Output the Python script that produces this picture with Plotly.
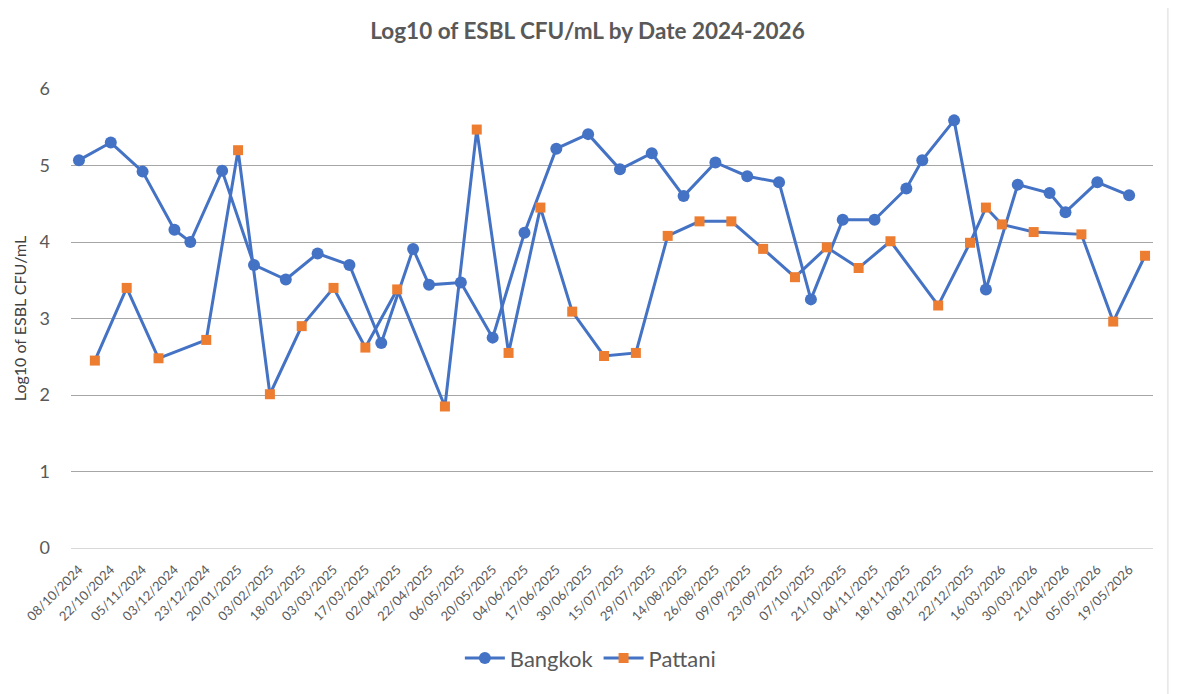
import plotly.graph_objects as go

# visible category labels (every second sampling slot is labelled)
date_labels = [
    "08/10/2024", "22/10/2024", "05/11/2024", "03/12/2024", "23/12/2024",
    "20/01/2025", "03/02/2025", "18/02/2025", "03/03/2025", "17/03/2025",
    "02/04/2025", "22/04/2025", "06/05/2025", "20/05/2025", "04/06/2025",
    "17/06/2025", "30/06/2025", "15/07/2025", "29/07/2025", "14/08/2025",
    "26/08/2025", "09/09/2025", "23/09/2025", "07/10/2025", "21/10/2025",
    "04/11/2025", "18/11/2025", "08/12/2025", "22/12/2025", "16/03/2026",
    "30/03/2026", "21/04/2026", "05/05/2026", "19/05/2026",
]
n_slots = 68

bangkok_slot = [0, 2, 4, 6, 7, 9, 11, 13, 15, 17, 19, 21, 22, 24, 26, 28, 30, 32,
                34, 36, 38, 40, 42, 44, 46, 48, 50, 52, 53, 55, 57, 59, 61, 62, 64, 66]
bangkok_log = [5.07, 5.30, 4.92, 4.16, 4.00, 4.93, 3.70, 3.51, 3.85, 3.70, 2.68, 3.91,
               3.44, 3.47, 2.75, 4.12, 5.22, 5.41, 4.95, 5.16, 4.60, 5.04, 4.86, 4.78,
               3.25, 4.29, 4.29, 4.70, 5.07, 5.59, 3.38, 4.75, 4.64, 4.39, 4.78, 4.61]

pattani_slot = [1, 3, 5, 8, 10, 12, 14, 16, 18, 20, 23, 25, 27, 29, 31, 33, 35, 37,
                39, 41, 43, 45, 47, 49, 51, 54, 56, 57, 58, 60, 63, 65, 67]
pattani_log = [2.45, 3.40, 2.48, 2.72, 5.20, 2.01, 2.90, 3.40, 2.62, 3.38, 1.85, 5.47,
               2.55, 4.45, 3.09, 2.51, 2.55, 4.08, 4.27, 4.27, 3.91, 3.54, 3.93, 3.66,
               4.01, 3.17, 3.99, 4.45, 4.23, 4.13, 4.10, 2.96, 3.82]

blue = "#4472C4"
orange = "#ED7D31"
grey_text = "#595959"
font_family = "Lato, 'Open Sans', sans-serif"

fig = go.Figure()
fig.add_trace(go.Scatter(
    x=bangkok_slot, y=bangkok_log, name="Bangkok", mode="lines+markers",
    line=dict(color=blue, width=3),
    marker=dict(symbol="circle", size=12, color=blue),
))
fig.add_trace(go.Scatter(
    x=pattani_slot, y=pattani_log, name="Pattani", mode="lines+markers",
    line=dict(color=blue, width=3),
    marker=dict(symbol="square", size=10, color=orange),
))

# the page body adds an 8px margin, so the figure is a little smaller than the window
fig.update_layout(
    width=1174,
    height=686,
    margin=dict(l=60, r=29, t=81, b=146),
    paper_bgcolor="white",
    plot_bgcolor="white",
    font=dict(family=font_family, color=grey_text),
    title=dict(
        text="<b>Log10 of ESBL CFU/mL by Date 2024-2026</b>",
        x=0.4936,
        xref="container",
        xanchor="center",
        y=0.967,
        yref="container",
        yanchor="middle",
        font=dict(size=22.5, color=grey_text),
    ),
    legend=dict(
        orientation="h",
        x=0.48,
        xanchor="center",
        y=-0.24,
        yanchor="middle",
        font=dict(size=22, color=grey_text),
        itemwidth=40,
    ),
    showlegend=True,
)

fig.update_xaxes(
    range=[-0.5, n_slots - 0.5],
    tickmode="array",
    tickvals=list(range(0, n_slots, 2)),
    ticktext=date_labels,
    tickangle=-45,
    tickfont=dict(size=13, color=grey_text),
    showgrid=False,
    showline=True,
    linecolor="#d9d9d9",
    linewidth=1,
    ticks="outside",
    ticklen=8,
    tickcolor="rgba(0,0,0,0)",
    zeroline=False,
)
fig.update_yaxes(
    range=[0, 6],
    dtick=1,
    tickfont=dict(size=18, color=grey_text),
    showgrid=True,
    gridcolor="#a6a6a6",
    gridwidth=1,
    zeroline=False,
    ticklabelstandoff=20,
    title=dict(text="Log10 of ESBL CFU/mL", font=dict(size=16, color="#404040"), standoff=8),
)

# thin chart-area border on the right, as in the spreadsheet view
fig.add_shape(type="line", xref="paper", yref="paper", x0=1.0138, x1=1.0138, y0=-0.32, y1=1.19,
              line=dict(color="#d9d9d9", width=1))

fig.write_html("out.html")
